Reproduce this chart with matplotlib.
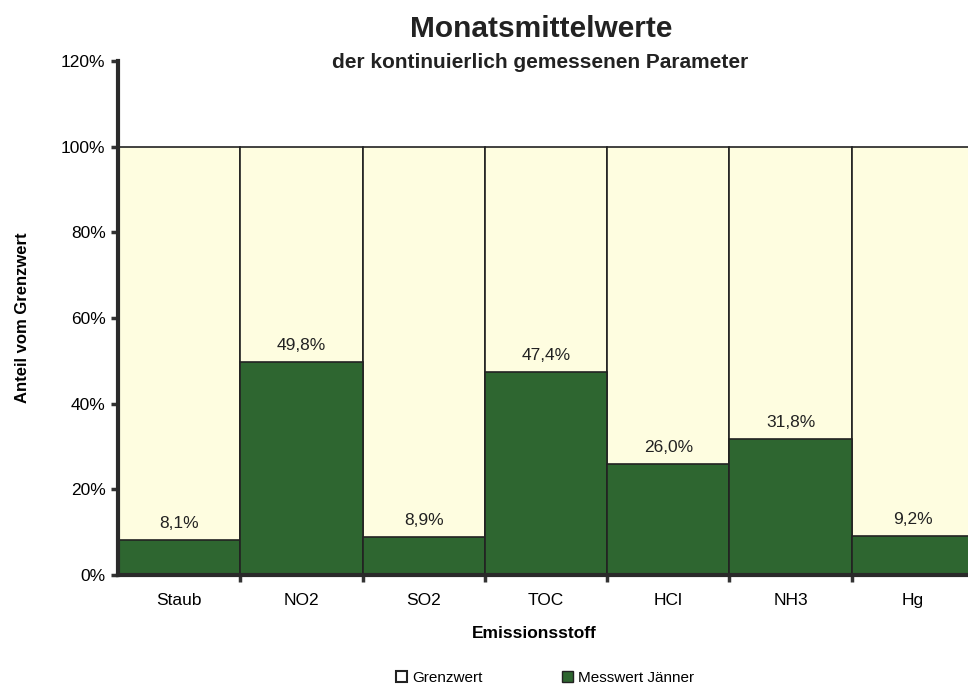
import matplotlib.pyplot as plt
from matplotlib.patches import Patch

plt.rcParams["font.family"] = ["Liberation Sans", "DejaVu Sans"]

stoffe = ["Staub", "NO2", "SO2", "TOC", "HCl", "NH3", "Hg"]
grenzwert = [100, 100, 100, 100, 100, 100, 100]
messwert = [8.1, 49.8, 8.9, 47.4, 26.0, 31.8, 9.2]
y_ticks = [0, 20, 40, 60, 80, 100, 120]

creme = "#fefde0"
gruen = "#2e6630"

fig = plt.figure(figsize=(9.68, 6.88), dpi=100)
ax = fig.add_axes([118 / 968, 113 / 688, 856 / 968, 514 / 688])

x = list(range(len(stoffe)))
ax.bar(x, grenzwert, width=1.0, color=creme, edgecolor="#222222", linewidth=1.2)
ax.bar(x, messwert, width=1.0, color=gruen, edgecolor="#222222", linewidth=1.2)

for xi, v in zip(x, messwert):
    ax.text(xi, v + 2.8, f"{v:.1f}%".replace(".", ","), ha="center", va="baseline",
            fontsize=12.5, color="#222222")

ax.set_xlim(-0.5, len(stoffe) - 0.5)
ax.set_ylim(0, 120)
ax.set_yticks(y_ticks)
ax.set_yticklabels([f"{t}%" for t in y_ticks], fontsize=12.5)

# Kategorien-Beschriftung in der Mitte, Ticks an den Grenzen
ax.set_xticks([i + 0.5 for i in x[:-1]])
ax.set_xticklabels([])
ax.set_xticks(x, minor=True)
ax.set_xticklabels(stoffe, minor=True, fontsize=12.5)
ax.tick_params(axis="x", which="minor", length=0, pad=13)
ax.tick_params(axis="x", which="major", length=5, width=2.5, color="#333333")
ax.tick_params(axis="y", length=5, width=2.5, color="#333333", pad=4)

for s in ["top", "right"]:
    ax.spines[s].set_visible(False)
for s in ["left", "bottom"]:
    ax.spines[s].set_linewidth(3)
    ax.spines[s].set_color("#2a2a2a")

ax.set_xlabel("Emissionsstoff", fontsize=12.5, fontweight="bold")
ax.xaxis.set_label_coords((534 - 118) / 856, -(638 - 575) / 514)
ax.xaxis.label.set_va("baseline")
ax.set_ylabel("Anteil vom Grenzwert", fontsize=12, fontweight="bold", labelpad=22)

fig.text(541 / 968, 1 - 37 / 688, "Monatsmittelwerte", ha="center", va="baseline",
         fontsize=21.5, fontweight="bold", color="#222222")
fig.text(540 / 968, 1 - 68 / 688, "der kontinuierlich gemessenen Parameter", ha="center",
         va="baseline", fontsize=15, fontweight="bold", color="#222222")

handles = [Patch(facecolor="white", edgecolor="#222222", linewidth=1.5, label="Grenzwert"),
           Patch(facecolor=gruen, edgecolor="#222222", linewidth=1, label="Messwert Jänner")]
fig.legend(handles=handles, loc="center", bbox_to_anchor=(545 / 968, 1 - 678 / 688), ncol=2,
           frameon=False, fontsize=11, handlelength=0.7, handleheight=0.7,
           handletextpad=0.35, columnspacing=5.2)

fig.savefig("out.png", dpi=100)
